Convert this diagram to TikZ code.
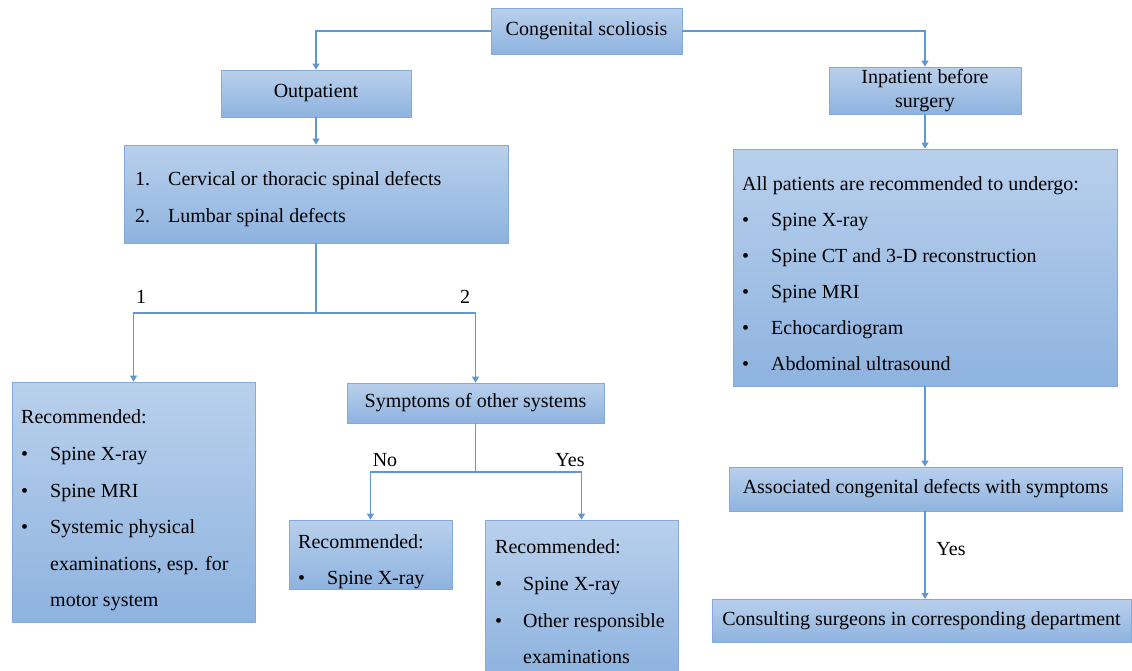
\documentclass[tikz,border=0pt]{standalone}
\usepackage{fontspec}
\setmainfont{Liberation Serif}
\usetikzlibrary{arrows.meta}
\definecolor{boxtop}{HTML}{B9D0EC}
\definecolor{boxbot}{HTML}{8EB3DF}
\definecolor{boxline}{HTML}{84AAD9}
\definecolor{connc}{HTML}{6196D0}
\begin{document}
\begin{tikzpicture}[x=1pt,y=-1pt,
  box/.style={draw=boxline, line width=0.8pt, top color=boxtop, bottom color=boxbot,
    inner sep=0pt, align=center, font=\fontsize{20}{24}\selectfont},
  link/.style={draw=connc, line width=1.1pt},
  arr/.style={link, -{Triangle[width=7pt,length=6pt]}},
  txt/.style={anchor=base west, inner sep=0pt, font=\fontsize{20}{24}\selectfont},
  lbl/.style={anchor=base, inner sep=0pt, font=\fontsize{20}{24}\selectfont}]
\useasboundingbox[fill=white] (0,0) rectangle (1132,670);

% boxes
\node[box, minimum width=191pt, minimum height=46pt] (cs) at (586.5,31) {Congenital scoliosis};
\node[box, minimum width=190pt, minimum height=47pt] (out) at (316,93.5) {Outpatient};
\node[box, minimum width=192pt, minimum height=47pt] (inp) at (925,90.5) {Inpatient before\\surgery};
\node[box, minimum width=384pt, minimum height=98pt] (list) at (316,194) {};
\node[box, minimum width=384pt, minimum height=237pt] (all) at (925,267.5) {};
\node[box, minimum width=243pt, minimum height=240pt] (rec1) at (133.5,502) {};
\node[box, minimum width=257pt, minimum height=40pt] (sym) at (475.5,403) {Symptoms of other systems};
\node[box, minimum width=163pt, minimum height=69pt] (rec2) at (370.5,554.5) {};
\node[box, minimum width=193pt, minimum height=154pt] (rec3) at (581.5,597) {};
\node[box, minimum width=393pt, minimum height=44pt] (assoc) at (925.5,489) {Associated congenital defects with symptoms};
\node[box, minimum width=419pt, minimum height=43pt] (cons) at (921.5,620.5) {Consulting surgeons in corresponding department};

% list box text
\node[txt] (l1n) at (135,185) {1.};
\node[txt] (l1t) at (168,185) {Cervical or thoracic spinal defects};
\node[txt] (l2n) at (135,222) {2.};
\node[txt] (l2t) at (168,222) {Lumbar spinal defects};

% inpatient big box text
\node[txt] (a0) at (742,190) {All patients are recommended to undergo:};
\node[txt] (a1b) at (742,226) {\textbullet};
\node[txt] (a1) at (771,226) {Spine X-ray};
\node[txt] (a2b) at (742,262) {\textbullet};
\node[txt] (a2) at (771,262) {Spine CT and 3-D reconstruction};
\node[txt] (a3b) at (742,298) {\textbullet};
\node[txt] (a3) at (771,298) {Spine MRI};
\node[txt] (a4b) at (742,334) {\textbullet};
\node[txt] (a4) at (771,334) {Echocardiogram};
\node[txt] (a5b) at (742,370) {\textbullet};
\node[txt] (a5) at (771,370) {Abdominal ultrasound};

% left recommended box
\node[txt] (r10) at (21,423) {Recommended:};
\node[txt] (r11b) at (21,460) {\textbullet};
\node[txt] (r11) at (50,460) {Spine X-ray};
\node[txt] (r12b) at (21,497) {\textbullet};
\node[txt] (r12) at (50,497) {Spine MRI};
\node[txt] (r13b) at (21,533) {\textbullet};
\node[txt] (r13) at (50,533) {Systemic physical};
\node[txt] (r14) at (50,570) {examinations, esp. for};
\node[txt] (r15) at (50,606) {motor system};

% middle small box
\node[txt] (r20) at (298,548) {Recommended:};
\node[txt] (r21b) at (298,584) {\textbullet};
\node[txt] (r21) at (327,584) {Spine X-ray};

% right recommended box
\node[txt] (r30) at (495,553) {Recommended:};
\node[txt] (r31b) at (495,590) {\textbullet};
\node[txt] (r31) at (523,590) {Spine X-ray};
\node[txt] (r32b) at (495,627) {\textbullet};
\node[txt] (r32) at (523,627) {Other responsible};
\node[txt] (r33) at (523,663) {examinations};

% connectors
\draw[arr] (cs.west) -| (out.north);
\draw[arr] (cs.east) -| (inp.north);
\draw[arr] (out.south) -- (list.north);
\draw[arr] (inp.south) -- (all.north);

\coordinate (j1) at (316,313);
\draw[link] (list.south) -- (j1);
\draw[arr] (j1) -| (rec1.north);
\draw[arr] (j1) -| (sym.north);
\node[lbl] (n1) at (141,303) {1};
\node[lbl] (n2) at (465,303) {2};

\coordinate (j2) at (475.5,472);
\draw[link] (sym.south) -- (j2);
\draw[arr] (j2) -| (rec2.north);
\draw[arr] (j2) -| (rec3.north);
\node[lbl] (no) at (385,466) {No};
\node[lbl] (yes1) at (570,466) {Yes};

\draw[arr] (all.south) -- (all.south |- assoc.north);
\draw[arr] (assoc.south -| 925,0) -- (925,599);
\node[lbl] (yes2) at (951,555) {Yes};
\end{tikzpicture}
\end{document}
